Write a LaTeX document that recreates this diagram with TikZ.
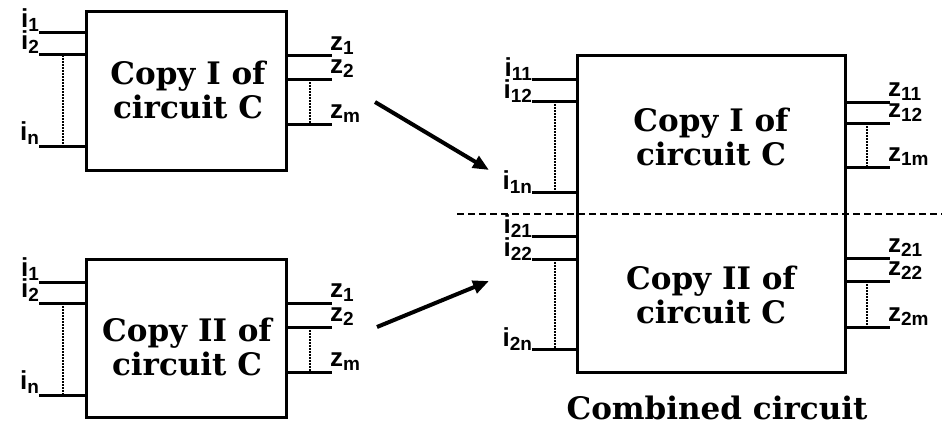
\documentclass[tikz,border=0pt]{standalone}
\usepackage{fontspec}
\setmainfont{DejaVu Serif}
\newfontfamily\pinfont{Liberation Sans}
\usetikzlibrary{arrows.meta}

\newcommand{\pinlbl}[2]{{\pinfont\bfseries\fontsize{26}{26}\selectfont #1\raisebox{-4pt}{\fontsize{19}{19}\selectfont #2}}}

\tikzset{
    boxtext/.style={font=\bfseries\fontsize{31}{34}\selectfont, align=center},
    box/.style={draw, line width=3pt, minimum width=200pt, minimum height=158pt},
    pin/.style={line width=3pt},
    bus/.style={line width=2.5pt, dash pattern=on 2pt off 1pt},
    lbl/.style={inner sep=0pt},
    flow/.style={line width=4pt, -{Triangle[length=16pt,width=13pt]}}
}

\begin{document}
\begin{tikzpicture}[x=1pt, y=-1pt]
\useasboundingbox (0,0) rectangle (942,428);

% Copy I (top left)
\node[box] (cpA) at (186,91) {};
\node[boxtext] (txtA) at (188,90) {Copy I of\\circuit C};
\foreach \y/\t in {33/1, 55/2, 146/n}
    \draw[pin] (cpA.west |- 0,\y) -- ++(-46,0)
        node[lbl, anchor=south east, xshift=2pt] (iA\t) {\pinlbl{i}{\t}};
\foreach \y/\t in {56/1, 79/2, 124/m}
    \draw[pin] (cpA.east |- 0,\y) -- ++(44,0)
        node[lbl, anchor=south west, xshift=-3pt] (zA\t) {\pinlbl{z}{\t}};
\draw[bus] (63,55) -- (63,146);
\draw[bus] (310,79) -- (310,124);

% Copy II (bottom left)
\node[box] (cpB) at (186,338) {};
\node[boxtext] (txtB) at (187,347) {Copy II of\\circuit C};
\foreach \y/\t in {282/1, 303/2, 395/n}
    \draw[pin] (cpB.west |- 0,\y) -- ++(-46,0)
        node[lbl, anchor=south east, xshift=2pt] (iB\t) {\pinlbl{i}{\t}};
\foreach \y/\t in {303/1, 327/2, 372/m}
    \draw[pin] (cpB.east |- 0,\y) -- ++(44,0)
        node[lbl, anchor=south west, xshift=-3pt] (zB\t) {\pinlbl{z}{\t}};
\draw[bus] (63,303) -- (63,395);
\draw[bus] (310,327) -- (310,372);

% Combined circuit
\node[draw, line width=3pt, minimum width=268pt, minimum height=316pt] (comb) at (711,214) {};
\node[boxtext] (combI) at (711,137) {Copy I of\\circuit C};
\node[boxtext] (combII) at (711,295) {Copy II of\\circuit C};
\foreach \y/\t in {79/11, 101/12, 192/1n, 236/21, 259/22, 349/2n}
    \draw[pin] (comb.west |- 0,\y) -- ++(-44,0)
        node[lbl, anchor=south east, xshift=2pt, yshift=-3pt] (iC\t) {\pinlbl{i}{\t}};
\foreach \y/\t in {102/11, 123/12, 167/1m, 258/21, 281/22, 327/2m}
    \draw[pin] (comb.east |- 0,\y) -- ++(43,0)
        node[lbl, anchor=south west, xshift=-3pt] (zC\t) {\pinlbl{z}{\t}};
\draw[bus] (555,101) -- (555,192);
\draw[bus] (867,123) -- (867,167);
\draw[bus] (555,259) -- (555,349);
\draw[bus] (867,281) -- (867,327);

% split between the two copies
\draw[line width=2pt, dash pattern=on 7pt off 4pt] (457,214) -- (942,214);

\node[boxtext] (combName) at (717,408) {Combined circuit};

% arrows
\coordinate (aTail) at (375,102);
\coordinate (aHead) at (489,170);
\coordinate (bTail) at (377,327);
\coordinate (bHead) at (489,281);
\draw[flow] (aTail) -- (aHead);
\draw[flow] (bTail) -- (bHead);

\end{tikzpicture}
\end{document}
